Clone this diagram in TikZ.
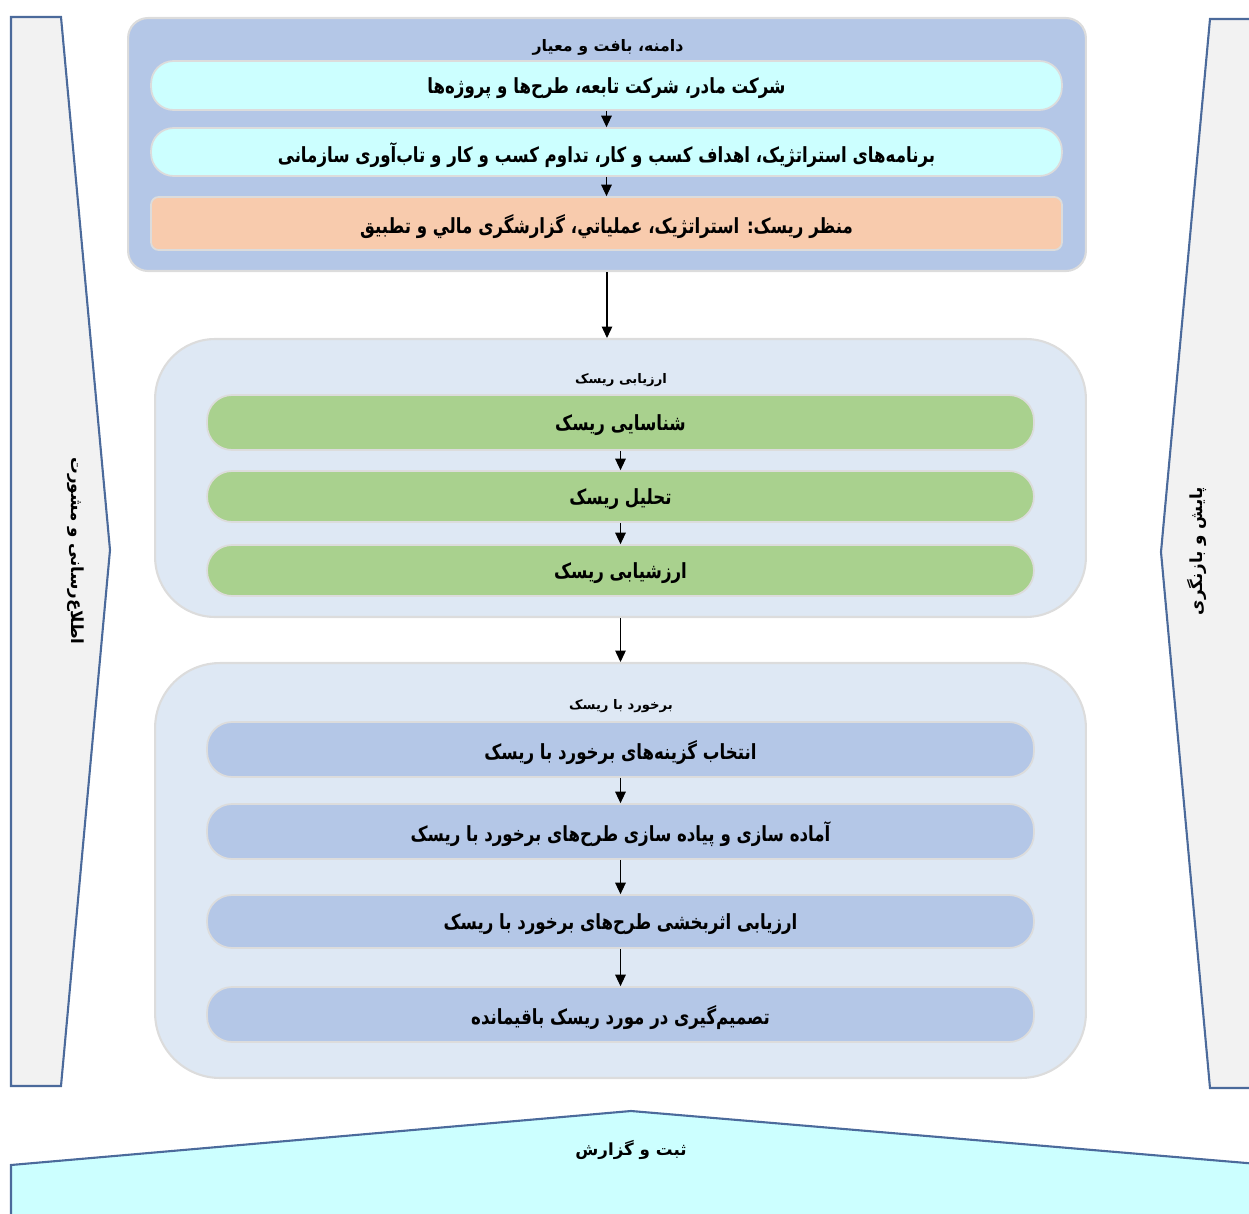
\documentclass[tikz,border=0pt]{standalone}
\usepackage{fontspec}
\newfontfamily\fa[Script=Arabic]{DejaVu Sans}
\TeXXeTstate=1
\usetikzlibrary{arrows.meta}
\definecolor{grpblue}{HTML}{B4C7E7}
\definecolor{lcyan}{HTML}{CCFFFF}
\definecolor{peach}{HTML}{F8CBAD}
\definecolor{lblue}{HTML}{DEE8F4}
\definecolor{lgreen}{HTML}{A9D18E}
\definecolor{panelgray}{HTML}{F2F2F2}
\definecolor{panelline}{HTML}{4B6A9B}
\definecolor{rimgray}{HTML}{DCDCDC}
\newcommand{\fat}[1]{\beginR #1\endR}
\newcommand{\fab}[1]{\raisebox{-1.5pt}[\height][\depth]{\scalebox{0.86}[1.08]{\beginR #1\endR}}}
\begin{document}
\begin{tikzpicture}[x=0.02cm,y=-0.02cm,
  group/.style={draw=rimgray,line width=1.2pt,minimum width=#1,inner sep=0pt},
  box/.style={draw=rimgray,line width=1pt,inner sep=0pt,font=\fa\bfseries\fontsize{11}{13}\selectfont},
  pill/.style={box,minimum width=16.54cm,rounded corners=0.5cm},
  tbox/.style={box,minimum width=18.22cm,rounded corners=0.45cm},
  ttl/.style={font=\fa\bfseries\fontsize{9}{11}\selectfont,inner sep=0pt},
  stl/.style={font=\fa\bfseries\fontsize{7.5}{9}\selectfont,inner sep=0pt},
  side/.style={font=\fa\bfseries\fontsize{9.5}{11}\selectfont,inner sep=0pt},
  panel/.style={draw=panelline,line width=1.2pt},
  arr/.style={-{Triangle[length=6.5pt,width=6pt]},line width=0.6pt}]
\useasboundingbox (0,0) rectangle (1249,1214);
\begin{scope}
\clip (0,0) rectangle (1249,1214);
% side and bottom panels
\draw[panel,fill=panelgray] (11,17) -- (61,17) -- (110,550) -- (61,1086) -- (11,1086) -- cycle;
\draw[panel,fill=panelgray] (1270,19) -- (1210,19) -- (1161,552) -- (1210,1088) -- (1270,1088);
\draw[panel,fill=lcyan] (11,1240) -- (11,1165) -- (631,1111) -- (1270,1165) -- (1270,1240);
\end{scope}
\node[side,rotate=-90] (inform) at (76,551) {\fa\fat{اطلاع‌رسانی و مشورت}};
\node[side,rotate=90] (monitor) at (1197,551) {\fa\fat{پایش و بازنگری}};
\node[side] (record) at (631,1150) {\fa\fat{ثبت و گزارش}};
% top group
\node[group=19.16cm,fill=grpblue,minimum height=5.06cm,rounded corners=0.4cm] (top) at (607,144.5) {};
\node[ttl] (toptitle) at (608,47) {\fa\fat{دامنه، بافت و معیار}};
\node[tbox,fill=lcyan,minimum height=0.98cm] (t1) at (606.5,85.5) {\fab{شرکت مادر، شرکت تابعه، طرح‌ها و پروژه‌ها}};
\node[tbox,fill=lcyan,minimum height=0.96cm] (t2) at (606.5,152) {\fab{برنامه‌های استراتژیک، اهداف کسب و کار، تداوم کسب و کار و تاب‌آوری سازمانی}};
\node[box,fill=peach,minimum width=18.22cm,minimum height=1.06cm,rounded corners=0.15cm] (t3) at (606.5,223.5) {\fab{منظر ریسک: استراتژیک، عملیاتي، گزارشگری مالي و تطبیق}};
\draw[arr] (t1) -- (t2);
\draw[arr] (t2) -- (t3);
% middle group
\node[group=18.62cm,fill=lblue,minimum height=5.56cm,rounded corners=1.2cm] (mid) at (620.5,478) {};
\node[stl] (midtitle) at (621,380) {\fa\fat{ارزیابی ریسک}};
\node[pill,fill=lgreen,minimum height=1.1cm] (m1) at (620.5,422.5) {\fab{شناسایی ریسک}};
\node[pill,fill=lgreen,minimum height=1.02cm] (m2) at (620.5,496.5) {\fab{تحلیل ریسک}};
\node[pill,fill=lgreen,minimum height=1.02cm] (m3) at (620.5,570.5) {\fab{ارزشیابی ریسک}};
\draw[arr] (m1) -- (m2);
\draw[arr] (m2) -- (m3);
% bottom group
\node[group=18.62cm,fill=lblue,minimum height=8.3cm,rounded corners=1.3cm] (low) at (620.5,870.5) {};
\node[stl] (lowtitle) at (621,706) {\fa\fat{برخورد با ریسک}};
\node[pill,fill=grpblue,minimum height=1.1cm] (b1) at (620.5,749.5) {\fab{انتخاب گزینه‌های برخورد با ریسک}};
\node[pill,fill=grpblue,minimum height=1.1cm] (b2) at (620.5,831.5) {\fab{آماده سازی و پیاده سازی طرح‌های برخورد با ریسک}};
\node[pill,fill=grpblue,minimum height=1.06cm] (b3) at (620.5,921.5) {\fab{ارزیابی اثربخشی طرح‌های برخورد با ریسک}};
\node[pill,fill=grpblue,minimum height=1.1cm] (b4) at (620.5,1014.5) {\fab{تصمیم‌گیری در مورد ریسک باقیمانده}};
\draw[arr] (b1) -- (b2);
\draw[arr] (b2) -- (b3);
\draw[arr] (b3) -- (b4);
% connectors between groups
\draw[arr] (top.south) -- (top.south |- mid.north);
\draw[arr] (mid.south) -- (low.north);
\end{tikzpicture}
\end{document}
